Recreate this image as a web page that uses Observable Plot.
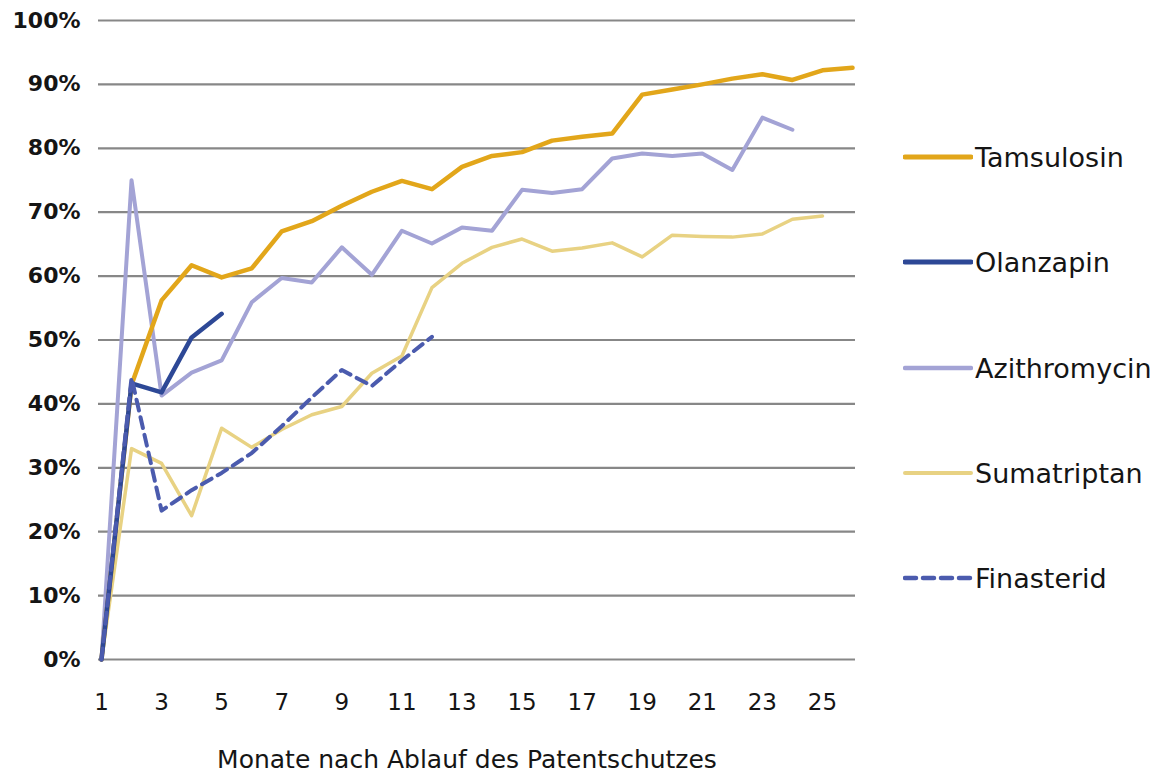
<!DOCTYPE html>
<html><head><meta charset="utf-8">
<script src="https://cdn.jsdelivr.net/npm/d3@7"></script>
<script src="https://cdn.jsdelivr.net/npm/@observablehq/plot@0.6"></script>
<style>
body{margin:0;background:#fff;}
#wrap{position:relative;width:1153px;height:776px;font-family:"DejaVu Sans",sans-serif;}
#chart{position:absolute;left:0;top:0;}
#legend{position:absolute;left:903px;top:0;}
.item{position:absolute;left:0;display:flex;align-items:center;white-space:nowrap;font-size:27px;color:#151515;height:30px;}
.item svg{margin-right:2px;}
</style></head><body><div id="wrap"><div id="chart"></div><div id="legend"></div></div>
<script>
const months = d3.range(1, 27);
const seriesNames = ["Tamsulosin", "Olanzapin", "Azithromycin", "Sumatriptan", "Finasterid"];
const tamsulosin = [0, 43, 56.2, 61.7, 59.8, 61.2, 67, 68.6, 71, 73.2, 74.9, 73.6, 77.1, 78.8, 79.4, 81.2, 81.8, 82.3, 88.4, 89.2, 90, 90.9, 91.6, 90.7, 92.2, 92.6];
const olanzapin = [0, 43.2, 41.8, 50.4, 54.1];
const azithromycin = [0, 75, 41.3, 44.9, 46.8, 55.9, 59.7, 59, 64.5, 60.2, 67.1, 65.1, 67.6, 67.1, 73.5, 73, 73.6, 78.4, 79.2, 78.8, 79.2, 76.6, 84.8, 82.9];
const sumatriptan = [0, 33, 30.7, 22.5, 36.2, 33.2, 36, 38.3, 39.6, 44.8, 47.5, 58.2, 62, 64.5, 65.8, 63.9, 64.4, 65.2, 63, 66.4, 66.2, 66.1, 66.6, 68.9, 69.4];
const finasterid = [0, 44.1, 23.3, 26.5, 29.2, 32.3, 36.5, 41, 45.3, 42.8, 46.8, 50.5];
const xTicks = [1, 3, 5, 7, 9, 11, 13, 15, 17, 19, 21, 23, 25];
const yTicks = [0, 10, 20, 30, 40, 50, 60, 70, 80, 90, 100];
const xLabel = "Monate nach Ablauf des Patentschutzes";

const colors = {Tamsulosin: "#E2A61A", Olanzapin: "#2D4896", Azithromycin: "#A3A3D5", Sumatriptan: "#E8D283", Finasterid: "#4B5BAE"};
const widths = {Tamsulosin: 4.5, Olanzapin: 4.5, Azithromycin: 4, Sumatriptan: 3.5, Finasterid: 4};
const dashes = {Tamsulosin: null, Olanzapin: null, Azithromycin: null, Sumatriptan: null, Finasterid: "11,7"};
const valuesBy = {Tamsulosin: tamsulosin, Olanzapin: olanzapin, Azithromycin: azithromycin, Sumatriptan: sumatriptan, Finasterid: finasterid};

const rows = name => valuesBy[name].map((v, i) => ({series: name, month: months[i], value: v}));
const drawOrder = ["Azithromycin", "Sumatriptan", "Tamsulosin", "Olanzapin", "Finasterid"];

const chart = Plot.plot({
  width: 1153, height: 776,
  marginLeft: 101, marginRight: 301, marginTop: 20, marginBottom: 117,
  style: {fontFamily: "DejaVu Sans, sans-serif", color: "#151515", background: "#fff"},
  x: {domain: [1, 26]},
  y: {domain: [0, 100]},
  marks: [
    Plot.ruleY(yTicks, {stroke: "#878787", strokeWidth: 2.2, insetLeft: -3, insetRight: -3}),
    ...drawOrder.map(name => Plot.lineY(rows(name), {
      x: "month", y: "value", stroke: colors[name], strokeWidth: widths[name],
      strokeDasharray: dashes[name] ?? undefined, strokeLinejoin: "round", strokeLinecap: "round"
    })),
    Plot.axisY({ticks: yTicks, tickSize: 0, tickPadding: 21, fontSize: 22, fontWeight: "bold", tickFormat: d => d + "%", label: null}),
    Plot.axisX({ticks: xTicks, tickSize: 0, tickPadding: 34, fontSize: 23, label: xLabel, labelAnchor: "center", labelArrow: "none", labelOffset: 108}),
  ]
});
document.getElementById("chart").appendChild(chart);
// match the axis title's size to the reference
chart.querySelectorAll("g[aria-label='x-axis label'] text").forEach(t => { t.setAttribute("font-size", 25); t.setAttribute("dx", -10); });

const legend = document.getElementById("legend");
const legendTops = [142, 247, 353, 458, 563];
seriesNames.forEach((name, i) => {
  const item = document.createElement("div");
  item.className = "item";
  item.style.top = legendTops[i] + "px";
  const dash = dashes[name] ? `stroke-dasharray="${dashes[name]}"` : "";
  item.innerHTML = `<svg width="70" height="12"><line x1="2" y1="6" x2="68" y2="6" stroke="${colors[name]}" stroke-width="${widths[name] + 0.5}" ${dash} stroke-linecap="round"/></svg><span>${name}</span>`;
  legend.appendChild(item);
});
</script></body></html>
